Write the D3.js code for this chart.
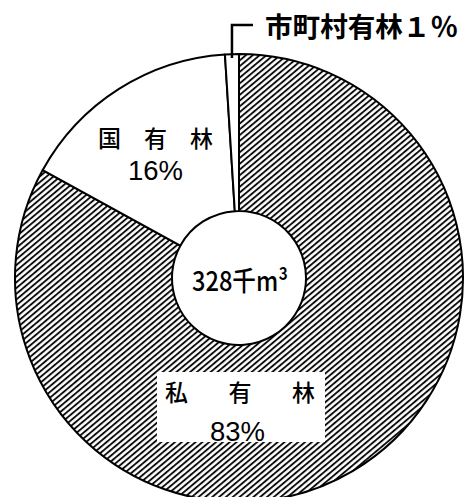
<!DOCTYPE html>
<html><head><meta charset="utf-8">
<script src="https://cdn.jsdelivr.net/npm/d3@7"></script>
<style>html,body{margin:0;padding:0;background:#fff;}svg{display:block;}</style>
</head><body>
<script>
const categories = ["私有林", "国有林", "市町村有林"];
const values = [83, 16, 1];
const labels = ["私 有 林", "国 有 林", "市町村有林１％"];
const pctLabels = ["83%", "16%", "1%"];
const totalLabel = "328千m³";

const W = 466, H = 497;
const cx = 239, cy = 278, rOuter = 224, rInner = 67;

const svg = d3.select("body").append("svg").attr("width", W).attr("height", H);
const defs = svg.append("defs");
const pat = defs.append("pattern").attr("id", "hatch").attr("patternUnits", "userSpaceOnUse")
  .attr("width", 4.4).attr("height", 10).attr("patternTransform", "rotate(50)");
pat.append("line").attr("x1", 1).attr("x2", 1).attr("y1", -2).attr("y2", 12)
  .attr("stroke", "#000").attr("stroke-width", 1.8);

const pie = d3.pie().sort(null).value(d => d)(values);
const arc = d3.arc().innerRadius(rInner).outerRadius(rOuter);
const g = svg.append("g").attr("transform", `translate(${cx},${cy})`);
g.selectAll("path.slice").data(pie).join("path").attr("class", "slice")
  .attr("d", arc)
  .attr("fill", (d, i) => i === 0 ? "url(#hatch)" : "#fff")
  .attr("stroke", "#000").attr("stroke-width", 2).attr("stroke-linejoin", "round");

const font = "'Noto Sans CJK JP', 'Noto Sans', sans-serif";
const numFont = "'Liberation Sans', Arial, sans-serif";

// Private label box
svg.append("rect").attr("x", 157).attr("y", 372).attr("width", 168).attr("height", 70).attr("fill", "#fff");
svg.append("text").attr("x", 165).attr("y", 401).attr("font-family", font).attr("font-size", 23)
  .attr("font-weight", 500)
  .attr("textLength", 150).attr("lengthAdjust", "spacing").text(labels[0].replace(/ /g, ""));
svg.append("text").attr("x", 210).attr("y", 441).attr("font-family", numFont).attr("font-size", 27)
  .attr("textLength", 55).attr("lengthAdjust", "spacingAndGlyphs").text(pctLabels[0]);

// National
svg.append("text").attr("x", 98).attr("y", 147).attr("font-family", font).attr("font-size", 23)
  .attr("font-weight", 500)
  .attr("textLength", 115).attr("lengthAdjust", "spacing").text(labels[1].replace(/ /g, ""));
svg.append("text").attr("x", 128).attr("y", 180).attr("font-family", numFont).attr("font-size", 27)
  .attr("textLength", 55).attr("lengthAdjust", "spacingAndGlyphs").text(pctLabels[1]);

// Municipal leader + label
const mid = (pie[2].startAngle + pie[2].endAngle) / 2;
const lx = cx + Math.sin(mid) * rOuter;
svg.append("path").attr("d", `M${lx},${cy - rOuter * Math.cos(mid) + 4} V25 H253`)
  .attr("fill", "none").attr("stroke", "#000").attr("stroke-width", 2.5);
svg.append("text").attr("x", 265).attr("y", 37).attr("font-family", font).attr("font-size", 27)
  .attr("font-weight", "bold").attr("textLength", 193).attr("lengthAdjust", "spacingAndGlyphs").text(labels[2]);

// Center
svg.append("text").attr("x", 192).attr("y", 291).attr("font-family", font).attr("font-size", 27)
  .attr("font-weight", 500)
  .attr("textLength", 96).attr("lengthAdjust", "spacingAndGlyphs").text(totalLabel);
</script>
</body></html>
